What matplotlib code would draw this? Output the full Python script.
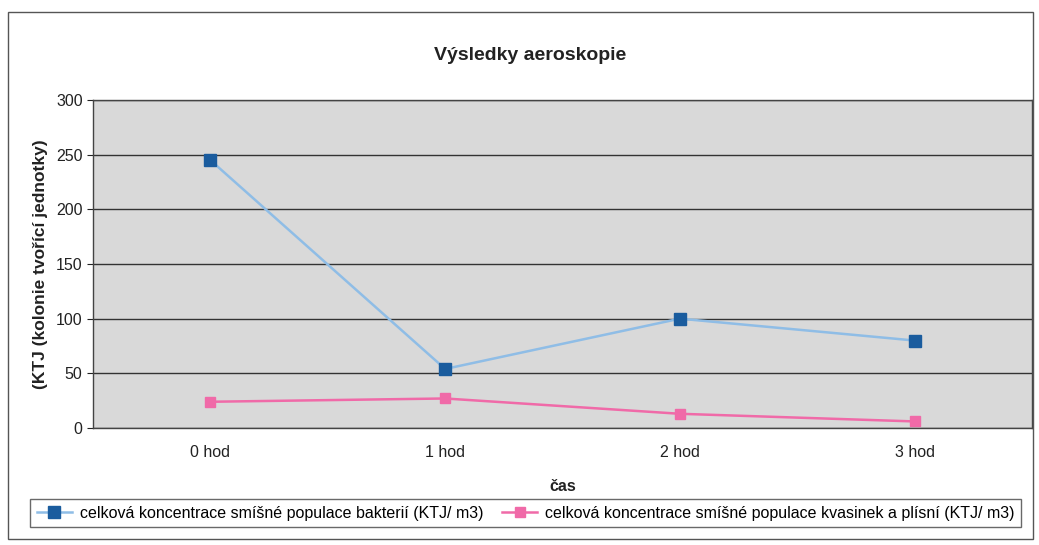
import matplotlib
matplotlib.use("Agg")
import matplotlib.pyplot as plt
from matplotlib.patches import Rectangle

categories = ["0 hod", "1 hod", "2 hod", "3 hod"]
bacteria = [245, 54, 100, 80]
yeasts = [24, 27, 13, 6]
series_names = [
    "celková koncentrace smíšné populace bakterií (KTJ/ m3)",
    "celková koncentrace smíšné populace kvasinek a plísní (KTJ/ m3)",
]
yticks = [0, 50, 100, 150, 200, 250, 300]

plt.rcParams['font.family'] = ['Liberation Sans', 'DejaVu Sans']

fig = plt.figure(figsize=(10.39, 5.45), dpi=100)
fig.patch.set_facecolor("white")
# outer chart border
fig.add_artist(Rectangle((8/1039, 6/545), 1025/1039, 527/545, transform=fig.transFigure,
                         fill=False, edgecolor="#555555", linewidth=1.0))

ax = fig.add_axes([93/1039, 1 - 428/545, 939/1039, 328/545])
ax.set_facecolor("#d9d9d9")
x = list(range(len(categories)))
ax.plot(x, bacteria, color="#8fbde6", linewidth=1.8, marker="s", markersize=8,
        markerfacecolor="#1a5c9e", markeredgecolor="#1a5c9e", label=series_names[0], zorder=3)
ax.plot(x, yeasts, color="#f06aa8", linewidth=1.8, marker="s", markersize=7,
        markerfacecolor="#f06aa8", markeredgecolor="#f06aa8", label=series_names[1], zorder=3)

ax.set_xlim(-0.5, len(categories) - 0.5)
ax.set_ylim(0, 300)
ax.set_yticks(yticks)
ax.set_xticks(x)
ax.set_xticklabels(categories)
ax.grid(axis="y", color="#333333", linewidth=1.0)
ax.set_axisbelow(True)
for s in ax.spines.values():
    s.set_color("#444444")
    s.set_linewidth(1.0)
ax.tick_params(axis="both", labelsize=11.5, colors="#222222", length=4)
ax.tick_params(axis="x", length=0, pad=12)

fig.text(0.51, 1 - 55/545, "Výsledky aeroskopie", fontsize=14, fontweight="bold",
         color="#222222", ha="center", va="center")
ax.set_xlabel("čas", fontsize=11.5, fontweight="bold", labelpad=14, color="#222222")
ax.set_ylabel("(KTJ (kolonie tvořící jednotky)", fontsize=12.5, fontweight="bold", labelpad=6, color="#222222")

leg = fig.legend(loc="lower center", bbox_to_anchor=(0.506, 10/545), ncol=2, fontsize=11.5,
                 frameon=True, fancybox=False, edgecolor="#444444", columnspacing=1.2,
                 handlelength=2.2, handletextpad=0.5, borderpad=0.4)
leg.get_frame().set_linewidth(1.0)

fig.savefig("out.png", dpi=100, facecolor="white")
